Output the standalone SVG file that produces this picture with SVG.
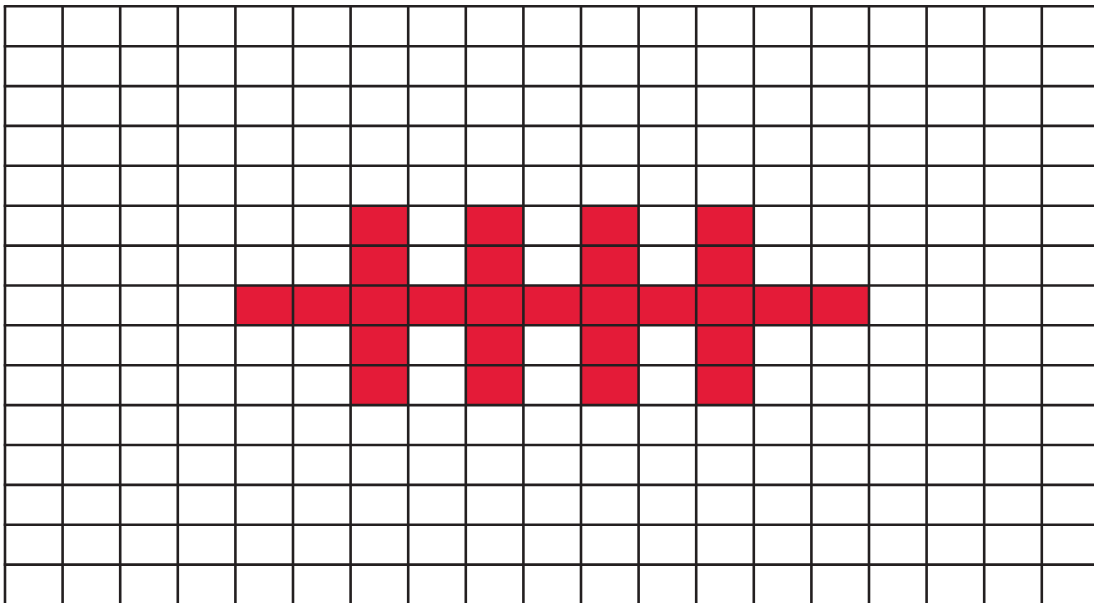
<svg xmlns="http://www.w3.org/2000/svg" width="1094" height="603" viewBox="0 0 1094 603">
<style>
.cell{fill:#E41B38}
.g line{stroke:#231F20;stroke-width:2.6}
</style>
<rect width="1094" height="603" fill="#fff"/>
<g id="cross">
<rect class="cell" x="350.6" y="205.7" width="57.6" height="199.4"/>
<rect class="cell" x="465.8" y="205.7" width="57.6" height="199.4"/>
<rect class="cell" x="581" y="205.7" width="57.6" height="199.4"/>
<rect class="cell" x="696.2" y="205.7" width="57.6" height="199.4"/>
<rect class="cell" x="235.4" y="285.5" width="633.6" height="39.9"/>
</g>
<g id="grid" class="g">
<line x1="5" y1="6.3" x2="5" y2="603"/>
<line x1="62.6" y1="6.3" x2="62.6" y2="603"/>
<line x1="120.2" y1="6.3" x2="120.2" y2="603"/>
<line x1="177.8" y1="6.3" x2="177.8" y2="603"/>
<line x1="235.4" y1="6.3" x2="235.4" y2="603"/>
<line x1="293" y1="6.3" x2="293" y2="603"/>
<line x1="350.6" y1="6.3" x2="350.6" y2="603"/>
<line x1="408.2" y1="6.3" x2="408.2" y2="603"/>
<line x1="465.8" y1="6.3" x2="465.8" y2="603"/>
<line x1="523.4" y1="6.3" x2="523.4" y2="603"/>
<line x1="581" y1="6.3" x2="581" y2="603"/>
<line x1="638.6" y1="6.3" x2="638.6" y2="603"/>
<line x1="696.2" y1="6.3" x2="696.2" y2="603"/>
<line x1="753.8" y1="6.3" x2="753.8" y2="603"/>
<line x1="811.4" y1="6.3" x2="811.4" y2="603"/>
<line x1="869" y1="6.3" x2="869" y2="603"/>
<line x1="926.6" y1="6.3" x2="926.6" y2="603"/>
<line x1="984.2" y1="6.3" x2="984.2" y2="603"/>
<line x1="1041.8" y1="6.3" x2="1041.8" y2="603"/>
<line x1="3.7" y1="6.3" x2="1094" y2="6.3"/>
<line x1="3.7" y1="46.2" x2="1094" y2="46.2"/>
<line x1="3.7" y1="86.1" x2="1094" y2="86.1"/>
<line x1="3.7" y1="125.9" x2="1094" y2="125.9"/>
<line x1="3.7" y1="165.8" x2="1094" y2="165.8"/>
<line x1="3.7" y1="205.7" x2="1094" y2="205.7"/>
<line x1="3.7" y1="245.6" x2="1094" y2="245.6"/>
<line x1="3.7" y1="285.5" x2="1094" y2="285.5"/>
<line x1="3.7" y1="325.3" x2="1094" y2="325.3"/>
<line x1="3.7" y1="365.2" x2="1094" y2="365.2"/>
<line x1="3.7" y1="405.1" x2="1094" y2="405.1"/>
<line x1="3.7" y1="445" x2="1094" y2="445"/>
<line x1="3.7" y1="484.9" x2="1094" y2="484.9"/>
<line x1="3.7" y1="524.7" x2="1094" y2="524.7"/>
<line x1="3.7" y1="564.6" x2="1094" y2="564.6"/>
</g>
</svg>
